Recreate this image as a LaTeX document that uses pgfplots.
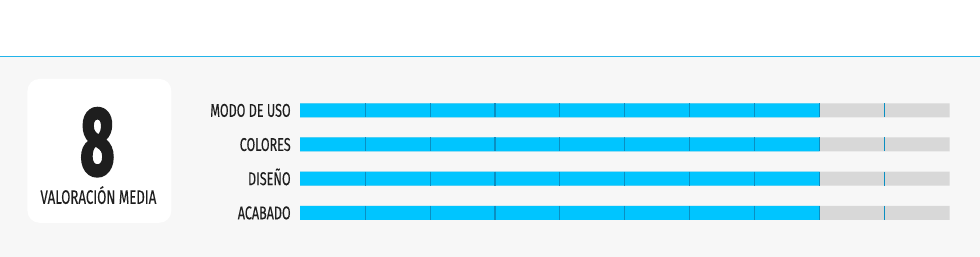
\documentclass[border=0pt]{standalone}
\usepackage{fontspec}
\setmainfont{Fira Sans}[FakeStretch=0.68, FakeBold=0.2]
\newfontfamily\bigfont{Fira Sans}[FakeStretch=0.6, FakeBold=2.5]
\usepackage{pgfplots}
\pgfplotsset{compat=1.18}
\definecolor{bg}{HTML}{F7F7F7}
\definecolor{linec}{HTML}{22B4EA}
\definecolor{txt}{HTML}{1E1E1E}
\definecolor{barbg}{HTML}{D8D8D8}
\definecolor{barfg}{HTML}{00C5FF}
\definecolor{sep}{HTML}{0A8FC2}
\pgfplotstableread{
x y
1 1
2 1
3 1
4 1
5 1
6 1
7 1
8 1
9 1
1 2
2 2
3 2
4 2
5 2
6 2
7 2
8 2
9 2
1 3
2 3
3 3
4 3
5 3
6 3
7 3
8 3
9 3
1 4
2 4
3 4
4 4
5 4
6 4
7 4
8 4
9 4
}\septable
\begin{document}
\begin{tikzpicture}[x=1pt,y=1pt]
\fill[white] (0,0) rectangle (980,257);
\fill[bg] (0,0) rectangle (980,200);
\draw[linec, line width=1pt] (0,200) -- (980,200);
\fill[white, rounded corners=12pt] (27,34) rectangle (171,178);
\node[font=\bigfont\bfseries\fontsize{97}{97}\selectfont, text=txt, anchor=base, inner sep=0pt, text depth=0pt] at (97,82) {8};
\node[font=\fontsize{19.5}{19.5}\selectfont, text=txt, anchor=base, inner sep=0pt, text height=12pt, text depth=0pt] at (98,53) {VALORACIÓN MEDIA};
\begin{axis}[at={(300pt,26.9pt)}, anchor=south west, scale only axis,
  width=650pt, height=136.8pt, xmin=0, xmax=10, ymin=0.5, ymax=4.5,
  hide x axis, y axis line style={draw=none}, major tick length=0pt,
  ytick={1,2,3,4}, yticklabels={ACABADO,DISEÑO,COLORES,MODO DE USO},
  yticklabel style={font=\fontsize{18.5}{18.5}\selectfont, text=txt, anchor=base east, yshift=-6.5pt, xshift=-6pt},
  clip=false]
\addplot[xbar, bar width=14pt, bar shift=0pt, fill=barbg, draw=none] coordinates {(10,1) (10,2) (10,3) (10,4)};
\addplot[xbar, bar width=14pt, bar shift=0pt, fill=barfg, draw=none] coordinates {(8,1) (8,2) (8,3) (8,4)};
\addplot[only marks, mark=|, mark size=7pt, mark options={line width=1.1pt, draw=sep}] table[x=x,y=y] {\septable};
\end{axis}
\end{tikzpicture}
\end{document}
